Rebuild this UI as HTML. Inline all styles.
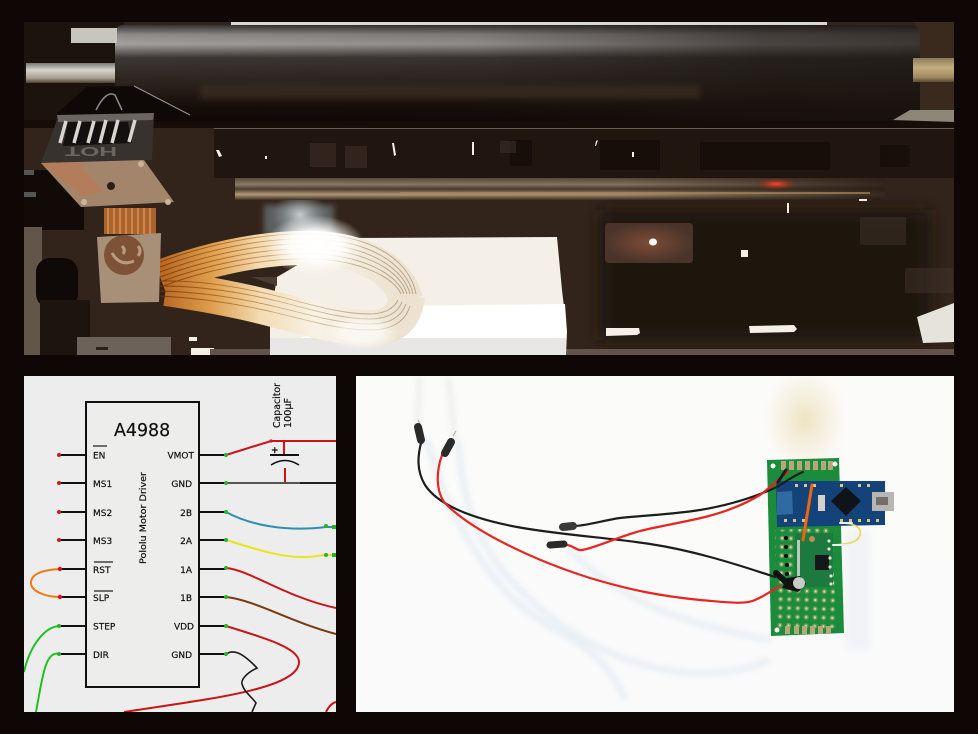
<!DOCTYPE html>
<html><head><meta charset="utf-8"><style>
html,body{margin:0;padding:0;background:#0f0705;width:978px;height:734px;overflow:hidden}
svg{display:block}
text{font-family:"DejaVu Sans","Liberation Sans",sans-serif;fill:#111;stroke:#111;stroke-width:.2}
</style></head><body>
<svg xmlns="http://www.w3.org/2000/svg" width="978" height="734" viewBox="0 0 978 734">
<defs>
<linearGradient id="rol" x1="0" y1="0" x2="0" y2="1">
<stop offset="0" stop-color="#333"/><stop offset=".1" stop-color="#8d8a87"/><stop offset=".2" stop-color="#a3a09d"/><stop offset=".34" stop-color="#3c3835"/><stop offset=".6" stop-color="#2b231d"/><stop offset=".85" stop-color="#160d09"/><stop offset="1" stop-color="#0f0705"/>
</linearGradient>
<linearGradient id="rolfade" x1="0" y1="0" x2="1" y2="0">
<stop offset="0" stop-color="#1b1511" stop-opacity="0"/><stop offset=".45" stop-color="#1b1511" stop-opacity=".15"/><stop offset=".8" stop-color="#1b1511" stop-opacity=".65"/><stop offset="1" stop-color="#1b1511" stop-opacity=".75"/>
</linearGradient>
<linearGradient id="shaft" x1="0" y1="0" x2="0" y2="1">
<stop offset="0" stop-color="#777"/><stop offset=".35" stop-color="#d8d4cc"/><stop offset=".75" stop-color="#a89f8e"/><stop offset="1" stop-color="#4a4035"/>
</linearGradient>
<linearGradient id="shaft2" x1="0" y1="0" x2="0" y2="1">
<stop offset="0" stop-color="#8a7c58"/><stop offset=".4" stop-color="#c4ae80"/><stop offset=".8" stop-color="#a08a60"/><stop offset="1" stop-color="#5a4a35"/>
</linearGradient>
<linearGradient id="rail" x1="0" y1="0" x2="0" y2="1">
<stop offset="0" stop-color="#5a4a3a"/><stop offset=".3" stop-color="#8a7a68"/><stop offset=".5" stop-color="#4a3b2e"/><stop offset=".75" stop-color="#b39a78"/><stop offset="1" stop-color="#3b2c22"/>
</linearGradient>
<linearGradient id="railfade" x1="0" y1="0" x2="1" y2="0">
<stop offset="0" stop-color="#2a1c14" stop-opacity="0"/><stop offset=".6" stop-color="#2a1c14" stop-opacity=".1"/><stop offset="1" stop-color="#2a1c14" stop-opacity=".9"/>
</linearGradient>
<linearGradient id="rib" gradientUnits="userSpaceOnUse" x1="160" y1="0" x2="400" y2="0">
<stop offset="0" stop-color="#b8651f"/><stop offset=".22" stop-color="#e0a050"/><stop offset=".42" stop-color="#f3dcb4"/><stop offset=".65" stop-color="#f8f2e6"/><stop offset="1" stop-color="#ece2cf"/>
</linearGradient>
<linearGradient id="ribl" gradientUnits="userSpaceOnUse" x1="160" y1="0" x2="400" y2="0">
<stop offset="0" stop-color="#6e3208"/><stop offset=".3" stop-color="#b46a1e"/><stop offset=".6" stop-color="#d0b488"/><stop offset="1" stop-color="#a8957a"/>
</linearGradient>
<radialGradient id="glare"><stop offset="0" stop-color="#fff"/><stop offset=".5" stop-color="#fff" stop-opacity=".9"/><stop offset="1" stop-color="#fff" stop-opacity="0"/></radialGradient>
<radialGradient id="glare2"><stop offset="0" stop-color="#dfe8ea" stop-opacity=".8"/><stop offset="1" stop-color="#9fb0b5" stop-opacity="0"/></radialGradient>
<radialGradient id="las"><stop offset="0" stop-color="#ff4a30"/><stop offset=".5" stop-color="#a8341c" stop-opacity=".7"/><stop offset="1" stop-color="#6a3010" stop-opacity="0"/></radialGradient>
<radialGradient id="pad"><stop offset="0" stop-color="#7e4c36"/><stop offset="1" stop-color="#4a342a"/></radialGradient>
<radialGradient id="yel"><stop offset="0" stop-color="#e9d8a8" stop-opacity=".7"/><stop offset=".6" stop-color="#f0e6c8" stop-opacity=".4"/><stop offset="1" stop-color="#f8f0dc" stop-opacity="0"/></radialGradient>
<filter id="b1" x="-20%" y="-20%" width="140%" height="140%"><feGaussianBlur stdDeviation="1"/></filter>
<filter id="b3" x="-30%" y="-30%" width="160%" height="160%"><feGaussianBlur stdDeviation="3"/></filter>
<filter id="b6" x="-30%" y="-30%" width="160%" height="160%"><feGaussianBlur stdDeviation="8"/></filter>
<pattern id="holes" width="8.7" height="8.7" patternUnits="userSpaceOnUse" patternTransform="rotate(1.5)">
<rect width="8.7" height="8.7" fill="#1b8c3c"/><circle cx="4.3" cy="4.3" r="2.6" fill="#6f9c58"/><circle cx="4.3" cy="4.3" r="1.1" fill="#d8dab8"/>
</pattern>
<clipPath id="cp1"><rect x="24" y="22" width="930" height="333"/></clipPath>
<clipPath id="cp2"><rect x="24" y="376" width="312" height="336"/></clipPath>
<clipPath id="cp3"><rect x="356" y="376" width="598" height="336"/></clipPath>
</defs>
<rect width="978" height="734" fill="#0f0705"/>

<!-- TOP PHOTO -->
<g clip-path="url(#cp1)">
<rect x="24" y="22" width="930" height="333" fill="#33241b"/>
<rect x="24" y="22" width="100" height="100" fill="#1d130d"/>
<rect x="915" y="22" width="39" height="100" fill="#3a2a1e"/>
<rect x="214" y="128" width="740" height="50" fill="#21150f"/>
<rect x="24" y="120" width="930" height="8" fill="#170d08"/>
<rect x="600" y="210" width="330" height="130" fill="#1e130d" filter="url(#b6)"/>
<rect x="24" y="170" width="60" height="60" fill="#120a06"/>
<rect x="264" y="205" width="70" height="30" fill="#5b5e5e" filter="url(#b3)"/>
<ellipse cx="300" cy="215" rx="28" ry="24" fill="url(#glare2)"/>

<!-- slots -->
<g fill="#120a06" opacity=".6">
<rect x="510" y="140" width="22" height="26"/><rect x="600" y="140" width="60" height="30"/>
<rect x="700" y="142" width="130" height="28"/><rect x="880" y="145" width="30" height="22"/>
</g>
<g fill="#40322a" opacity=".55">
<rect x="310" y="143" width="26" height="24"/><rect x="345" y="146" width="22" height="22"/><rect x="500" y="141" width="16" height="12"/>
<rect x="860" y="217" width="46" height="28"/><rect x="905" y="268" width="48" height="25"/>
</g>

<!-- roller -->
<rect x="115" y="25" width="805" height="96" rx="8" fill="url(#rol)"/>
<rect x="115" y="25" width="805" height="96" rx="8" fill="url(#rolfade)"/>
<rect x="200" y="85" width="500" height="14" fill="#4a3a2c" opacity=".45" filter="url(#b3)"/>
<rect x="231" y="22" width="596" height="3" fill="#d9d7d2"/>
<rect x="71" y="28" width="46" height="15" fill="#c8c5bd"/>
<rect x="26" y="63" width="89" height="20" fill="url(#shaft)"/>
<rect x="913" y="58" width="41" height="24" fill="url(#shaft2)"/>
<polygon points="893,120 910,110 954,110 954,122" fill="#8d877a"/>
<rect x="214" y="128" width="740" height="1" fill="#6a5c50"/>

<!-- rail -->
<rect x="235" y="178" width="650" height="22" fill="url(#rail)"/>
<rect x="235" y="178" width="650" height="22" fill="url(#railfade)"/>
<rect x="400" y="192" width="470" height="2" fill="#a88a58" opacity=".7"/>
<ellipse cx="776" cy="184" rx="22" ry="6" fill="url(#las)"/>

<!-- pad & specks -->
<rect x="605" y="223" width="88" height="40" rx="4" fill="url(#pad)"/>
<ellipse cx="653" cy="242" rx="4" ry="3.5" fill="#fff"/>
<g fill="#f4f0e8">
<polygon points="216,150 219,150 222,156 219,157"/>
<rect x="265" y="156" width="2" height="3"/>
<polygon points="392,143 394,143 396,155 394,156"/>
<rect x="472" y="142" width="2" height="13"/>
<polygon points="596,141 598,140 596,146 595,146"/>
<rect x="632" y="152" width="2" height="5"/>
<rect x="787" y="203" width="2" height="10"/>
<rect x="859" y="199" width="8" height="2"/>
<rect x="741" y="250" width="7" height="7"/>
<polygon points="606,328 639,328 640,333 637,335 606,336"/>
<polygon points="749,326 794,325 797,329 794,332 750,333"/>
<rect x="189" y="337" width="8" height="4"/>
<rect x="191" y="348" width="23" height="7"/>
</g>
<polygon points="917,317 954,303 954,342 923,343" fill="#e6e3dc"/>
<rect x="210" y="349" width="744" height="6" fill="#62544a"/>

<!-- paper -->
<polygon points="344,238 557,237 562,290 567,332 566,355 270,355 270,320 277,277" fill="#f4f0e8"/>
<polygon points="400,306 565,304 567,332 566,338 300,338" fill="#ffffff"/>
<rect x="270" y="338" width="296" height="17" fill="#e9e7e6"/>

<!-- left machinery -->
<rect x="24" y="227" width="18" height="128" fill="#615649"/>
<rect x="36" y="258" width="42" height="50" rx="14" fill="#0f0a08"/>
<rect x="40" y="300" width="50" height="55" fill="#1d140f"/>
<polygon points="77,337 171,337 171,355 77,355" fill="#6d6259"/>
<rect x="96" y="347" width="12" height="3" fill="#2b201a"/>
<rect x="24" y="170" width="10" height="5" fill="#555"/>
<rect x="24" y="192" width="12" height="5" fill="#555"/>

<!-- print head -->
<polygon points="57,113 87,87 134,86 190,115 154,118 60,120" fill="#0e0806"/>
<path d="M96,110 Q106,90 115,95 L122,110" fill="none" stroke="#8f8b86" stroke-width="1.5"/>
<line x1="134" y1="86" x2="190" y2="115" stroke="#9a938a" stroke-width="1"/>
<polygon points="41,163 57,120 154,115 152,160" fill="#37322d"/>
<polygon points="57,115 154,113 153,120 58,122" fill="#6a6560"/>
<polygon points="63,146 132,143 128,122 68,122" fill="#141010"/>
<g stroke="#d9d6cf" stroke-width="3.5">
<line x1="60" y1="143" x2="66" y2="121"/><line x1="74" y1="143" x2="80" y2="121"/><line x1="88" y1="143" x2="94" y2="121"/><line x1="100" y1="143" x2="106" y2="120"/><line x1="112" y1="143" x2="118" y2="120"/><line x1="129" y1="142" x2="135" y2="120"/>
</g>
<text x="0" y="0" transform="translate(117,147) rotate(180)" font-size="13" font-weight="bold" style="fill:#6c665f;stroke:none;font-family:'Liberation Sans',sans-serif" textLength="52" lengthAdjust="spacingAndGlyphs">HOT</text>
<polygon points="41,163 144,160 174,202 81,207" fill="#a3856b"/>
<polygon points="41,163 78,162 103,191 84,197" fill="#b37d5c"/>
<circle cx="111" cy="186" r="4" fill="#2d1f18"/>
<circle cx="141" cy="164" r="3" fill="#c9b59c"/><circle cx="168" cy="202" r="3" fill="#c9b59c"/><circle cx="84" cy="202" r="3" fill="#c9b59c"/>
<rect x="104" y="208" width="52" height="26" fill="#a9632c"/>
<g stroke="#e0935a" stroke-width="1.5">
<line x1="108" y1="208" x2="108" y2="234"/><line x1="114" y1="208" x2="114" y2="234"/><line x1="120" y1="208" x2="120" y2="234"/><line x1="126" y1="208" x2="126" y2="234"/><line x1="132" y1="208" x2="132" y2="234"/><line x1="138" y1="208" x2="138" y2="234"/><line x1="144" y1="208" x2="144" y2="234"/><line x1="150" y1="208" x2="150" y2="234"/>
</g>

<!-- ribbon -->
<polygon points="251,277 277,277 277,286" fill="#4a3d33"/>
<path d="M160,277 C200,262 260,246 315,248 C370,250 400,275 406,300" fill="none" stroke="url(#rib)" stroke-width="34"/>
<path d="M166,288 C200,293 240,300 277,310 C310,318 340,328 370,328 C395,328 405,315 407,296" fill="none" stroke="url(#rib)" stroke-width="36"/>
<g fill="none" stroke="url(#ribl)" stroke-width=".9" opacity=".85">
<path d="M160,262 C200,247 260,232 315,234 C375,236 410,262 416,294"/>
<path d="M160,267 C200,252 260,237 315,239 C372,241 407,266 413,294"/>
<path d="M160,272 C200,257 260,242 315,244 C370,246 404,269 410,294"/>
<path d="M160,277 C200,262 260,247 315,249 C368,251 401,272 407,294"/>
<path d="M160,282 C200,267 260,252 315,254 C366,256 398,276 404,294"/>
<path d="M160,287 C200,272 260,257 315,259 C364,261 395,279 401,294"/>
<path d="M160,281 C200,280 240,287 277,296 C310,304 340,314 370,314 C385,314 394,308 398,300"/>
<path d="M160,286 C200,286 240,292 277,301 C310,309 340,319 370,319 C388,319 398,312 402,302"/>
<path d="M160,291 C200,292 240,298 277,307 C310,315 340,324 370,324 C392,324 402,315 406,304"/>
<path d="M160,296 C200,298 240,304 277,313 C310,321 340,330 370,330 C395,330 406,319 410,306"/>
</g>
<ellipse cx="315" cy="245" rx="50" ry="30" fill="url(#glare)"/>
<ellipse cx="362" cy="332" rx="38" ry="18" fill="url(#glare)" opacity=".7"/>
<polygon points="97,237 161,233 159,302 101,303" fill="#a89078"/>
<circle cx="124" cy="255" r="20" fill="#7e5236"/>
<path d="M112,253 q8,14 22,8 M122,246 q4,4 1,8 M138,246 q4,5 0,10" fill="none" stroke="#b89c80" stroke-width="3"/>
</g>

<!-- SCHEMATIC -->
<rect x="24" y="376" width="312" height="336" fill="#ecedec"/>
<g clip-path="url(#cp2)">
<rect x="86" y="402" width="113" height="285" fill="#ededec" stroke="#111" stroke-width="2"/>
<g stroke="#111" stroke-width="2">
<path d="M59,455H86M59,483H86M59,512H86M59,540H86M59,569H86M59,597H86M59,626H86M59,654H86"/>
<path d="M199,455H226M199,483H226M199,512H226M199,540H226M199,569H226M199,597H226M199,626H226M199,654H226"/>
</g>
<!-- wires -->
<g fill="none" stroke-width="2">
<path d="M226,455L271,441H336" stroke="#cc1414"/>
<path d="M284,441V455M285,468V483" stroke="#cc1414"/>
<path d="M226,483H300" stroke="#555"/><path d="M300,483H336" stroke="#222"/>
<path d="M226,512C250,525 285,532 326,527L336,527" stroke="#2f8fb0"/>
<path d="M226,540C250,547 280,558 305,557C315,557 320,555 326,555H336" stroke="#e9e516"/>
<path d="M226,568C250,570 285,597 336,608" stroke="#cc1414"/>
<path d="M226,597C255,600 290,622 336,634" stroke="#7a3a10"/>
<path d="M226,626C265,638 299,648 299,662C299,690 200,700 124,712" stroke="#cc1414"/>
<path d="M226,654C232,650 240,650 257,668C246,673 241,680 242,684C244,692 252,697 256,703L252,712" stroke="#1a1a1a" stroke-width="1.6"/>
<path d="M60,569C40,570 31,575 31,583C31,591 45,597 60,597" stroke="#f07a10"/>
<path d="M59,626C45,627 30,645 24,672" stroke="#22c022"/>
<path d="M59,654C45,650 42,680 36,712" stroke="#22c022"/>
<path d="M326,712C329,706 332,703 336,702" stroke="#cc1414"/>
</g>
<g fill="#cc1a1a"><circle cx="59" cy="455" r="2"/><circle cx="59" cy="483" r="2"/><circle cx="59" cy="512" r="2"/><circle cx="59" cy="540" r="2"/><circle cx="60" cy="569" r="2.2"/><circle cx="60" cy="597" r="2.2"/><circle cx="271" cy="441" r="1.6"/></g>
<g fill="#28b428"><circle cx="226" cy="455" r="2"/><circle cx="226" cy="483" r="2"/><circle cx="226" cy="512" r="2"/><circle cx="226" cy="540" r="2"/><circle cx="226" cy="568" r="2"/><circle cx="226" cy="597" r="2"/><circle cx="226" cy="626" r="2"/><circle cx="226" cy="654" r="2"/><circle cx="59" cy="626" r="2"/><circle cx="59" cy="654" r="2"/><circle cx="326" cy="526" r="2"/><circle cx="326" cy="555" r="2"/><rect x="332" y="525" width="4" height="4"/><rect x="332" y="553" width="4" height="4"/></g>
<!-- capacitor -->
<path d="M270,455H299" stroke="#111" stroke-width="2"/>
<path d="M271,465Q285,456 299,465" fill="none" stroke="#111" stroke-width="1.5"/>
<text x="271" y="453" font-size="9" font-weight="bold">+</text>
<text transform="translate(280,428) rotate(-90)" font-size="9.5" textLength="45" lengthAdjust="spacingAndGlyphs">Capacitor</text>
<text transform="translate(291,428) rotate(-90)" font-size="9.5" textLength="30" lengthAdjust="spacingAndGlyphs">100µF</text>
<text x="114" y="436" font-size="17.4">A4988</text>
<text transform="translate(146,564) rotate(-90)" font-size="9" textLength="92" lengthAdjust="spacingAndGlyphs">Pololu Motor Driver</text>
<g font-size="9">
<text x="93" y="458.5">EN</text><text x="93" y="487">MS1</text><text x="93" y="516">MS2</text><text x="93" y="544">MS3</text><text x="93" y="573">RST</text><text x="93" y="601">SLP</text><text x="93" y="629.5">STEP</text><text x="93" y="658">DIR</text>
</g>
<g font-size="9" text-anchor="end">
<text x="194" y="458.5">VMOT</text><text x="192" y="487">GND</text><text x="192" y="516">2B</text><text x="192" y="544">2A</text><text x="192" y="573">1A</text><text x="192" y="601">1B</text><text x="194" y="629.5">VDD</text><text x="192" y="658">GND</text>
</g>
<path d="M93,446H107M94,562H113M94,591H113" stroke="#222" stroke-width="1.2"/>
</g>

<!-- WIRING PHOTO -->
<rect x="356" y="376" width="598" height="336" fill="#fbfbfa"/>
<g clip-path="url(#cp3)">
<rect x="356" y="560" width="598" height="152" fill="#fafafa"/>
<ellipse cx="805" cy="420" rx="44" ry="55" fill="url(#yel)"/>
<rect x="846" y="530" width="24" height="120" fill="#f1f3f6" filter="url(#b3)"/>
<g fill="none" stroke="#e8eff4" stroke-width="6" filter="url(#b3)">
<path d="M427,440C440,490 470,560 520,605C560,640 600,640 625,700"/>
<path d="M458,440C462,490 470,540 520,590C600,670 700,690 770,660"/>
<path d="M570,550C610,590 660,620 770,640"/>
</g>
<path d="M420,376L417,425M448,376L455,440" stroke="#ededeb" stroke-width="5" filter="url(#b3)"/>
<path d="M418,420L420,424M453,436L456,431" stroke="#aaa" stroke-width="1"/>

<!-- PCB -->
<polygon points="767,460 839,458 844,633 771,636" fill="#1b8c3c"/>
<polygon points="775,530 830,528 838,628 775,630" fill="url(#holes)"/>
<g fill="#b6a878"><rect x="781" y="461" width="5" height="9"/><rect x="789" y="461" width="5" height="9"/><rect x="797" y="461" width="5" height="9"/><rect x="805" y="461" width="5" height="9"/><rect x="813" y="461" width="5" height="9"/><rect x="821" y="461" width="5" height="9"/><rect x="828" y="461" width="5" height="9"/>
<rect x="785" y="626" width="5" height="8"/><rect x="794" y="626" width="5" height="8"/><rect x="802" y="626" width="5" height="8"/><rect x="810" y="626" width="5" height="8"/><rect x="818" y="626" width="5" height="8"/><rect x="826" y="626" width="5" height="8"/></g>
<circle cx="773" cy="466" r="2.5" fill="#f4f4f0"/><circle cx="835" cy="464" r="2.5" fill="#f4f4f0"/><circle cx="777" cy="630" r="2.5" fill="#f4f4f0"/>
<polygon points="776,481 885,481 885,525 777,527" fill="#14437a"/>
<polygon points="777,492 792,491 793,514 777,515" fill="#2f6aa0"/>
<rect x="818" y="495" width="7" height="16" fill="#d5d1c8"/>
<polygon points="846,487 861,501 846,516 831,501" fill="#101418"/>
<rect x="872" y="492" width="22" height="19" fill="#b8b6b2"/><rect x="876" y="497" width="12" height="8" fill="#73706c"/>
<g fill="#d6c98a"><rect x="784" y="519" width="3" height="3"/><rect x="793" y="519" width="3" height="3"/><rect x="802" y="519" width="3" height="3"/><rect x="840" y="519" width="3" height="3"/><rect x="849" y="519" width="3" height="3"/><rect x="858" y="519" width="3" height="3"/><rect x="867" y="519" width="3" height="3"/><rect x="876" y="519" width="3" height="3"/>
<rect x="795" y="484" width="3" height="3"/><rect x="804" y="484" width="3" height="3"/><rect x="813" y="484" width="3" height="3"/><rect x="840" y="484" width="3" height="3"/><rect x="858" y="484" width="3" height="3"/><rect x="867" y="484" width="3" height="3"/></g>
<rect x="795" y="533" width="38" height="54" fill="#1c7a3e"/>
<rect x="797" y="540" width="3" height="40" fill="#bfc9b8"/>
<rect x="815" y="555" width="14" height="15" fill="#14181a"/>
<circle cx="812" cy="539" r="3" fill="#b89058"/>
<g fill="#e2e0d2"><circle cx="829" cy="541" r="1.6"/><circle cx="829" cy="549" r="1.6"/><circle cx="830" cy="558" r="1.6"/><circle cx="830" cy="567" r="1.6"/><circle cx="831" cy="576" r="1.6"/><circle cx="831" cy="584" r="1.6"/></g>
<g fill="#0a0a0a"><circle cx="786" cy="538" r="2"/><circle cx="786" cy="547" r="2"/><circle cx="786" cy="556" r="2"/><circle cx="787" cy="565" r="2"/><circle cx="787" cy="574" r="2"/></g>
<path d="M787,578L800,576L806,584L798,592L782,588Z" fill="#111"/>
<circle cx="799" cy="583" r="6" fill="#c9ccc6"/>

<!-- wires -->
<g fill="none" stroke-linecap="round">
<path d="M812,485L803,540" stroke="#f06410" stroke-width="3"/>
<path d="M840,523C856,523 862,528 860,535C858,542 850,544 833,545" stroke="#e6d85a" stroke-width="1.6"/>
<path d="M840,523H852M833,545H848" stroke="#eee" stroke-width="2"/>
<path d="M421,443C418,455 416,470 425,485C440,508 480,520 517,527C560,535 613,538 650,544C690,550 730,562 775,577" stroke="#1d1d1d" stroke-width="2.2"/>
<path d="M442,455C436,472 436,490 444,502C470,530 533,560 590,578C630,590 660,596 700,600C725,602 745,605 755,600C765,596 772,590 780,586" stroke="#e8251f" stroke-width="2.2"/>
<path d="M575,526C590,525 605,520 620,518C650,515 675,514 700,510C730,505 755,497 777,487C785,482 795,475 803,472" stroke="#1d1d1d" stroke-width="2.2"/>
<path d="M567,545C574,546 577,551 582,550C595,548 615,538 640,531C665,525 685,522 705,517C725,512 745,504 760,495C770,488 780,477 788,472" stroke="#e8251f" stroke-width="2.2"/>
</g>
<!-- plugs -->
<g stroke="#2a2a2a" stroke-linecap="round" fill="none">
<path d="M418,427L421,440" stroke-width="8"/>
<path d="M451,442L445,453" stroke-width="8"/>
<path d="M563,527L573,526" stroke-width="8" stroke="#3a3a3a"/>
<path d="M550,545L564,544" stroke-width="7"/>
<path d="M786,470L778,482" stroke="#1d1d1d" stroke-width="3"/>
<path d="M776,573L786,582" stroke="#111" stroke-width="6"/>
</g>
</g>
</svg>
</body></html>
